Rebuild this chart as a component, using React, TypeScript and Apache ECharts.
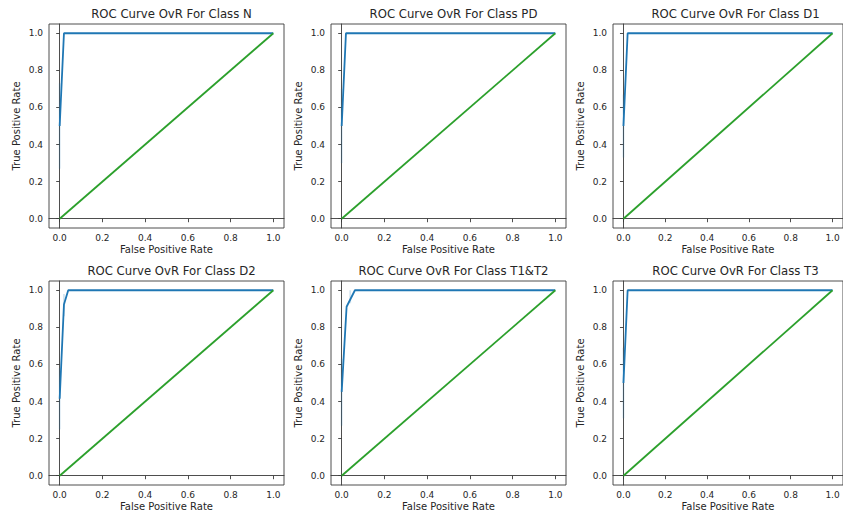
import React, { useEffect, useRef } from "react";
import * as echarts from "echarts";

// ---- data ----
const classNames = ["N", "PD", "D1", "D2", "T1&T2", "T3"];
const tickValues = [0, 0.2, 0.4, 0.6, 0.8, 1.0];

const fprN = [0, 0.02, 1];
const tprN = [0.5, 1, 1];
const bandN = [[0, 0.27, 0.73]];

const fprPD = [0, 0.02, 1];
const tprPD = [0.5, 1, 1];
const bandPD = [[0, 0.3, 0.7]];

const fprD1 = [0, 0.02, 1];
const tprD1 = [0.5, 1, 1];
const bandD1 = [[0, 0.33, 0.67]];

const fprD2 = [0, 0.02, 0.04, 1];
const tprD2 = [0.415, 0.923, 1, 1];
const bandD2 = [[0, 0.25, 0.58], [0.02, 0.86, 0.98]];

const fprT = [0, 0.023, 0.062, 1];
const tprT = [0.452, 0.911, 1, 1];
const bandT = [[0, 0.27, 0.63], [0.04, 0.93, 1.0]];

const fprT3 = [0, 0.02, 1];
const tprT3 = [0.5, 1, 1];
const bandT3 = [[0, 0.31, 0.69]];

const chanceX = [0, 1];
const chanceY = [0, 1];

const fprs = [fprN, fprPD, fprD1, fprD2, fprT, fprT3];
const tprs = [tprN, tprPD, tprD1, tprD2, tprT, tprT3];
const bands = [bandN, bandPD, bandD1, bandD2, bandT, bandT3];

const BLUE = "#1f77b4";
const GREEN = "#2ca02c";
const TEXT = "#262626";
const FONT = "DejaVu Sans";

export default function App() {
  const ref = useRef<HTMLDivElement>(null);

  useEffect(() => {
    if (!ref.current) return;
    const chart = echarts.init(ref.current, null, { renderer: "svg" });

    const colLefts = [49, 331, 613];
    const rowTops = [24, 281];
    const W = 235;
    const H = 204;

    const grids: any[] = [];
    const xAxes: any[] = [];
    const yAxes: any[] = [];
    const titles: any[] = [];
    const series: any[] = [];

    classNames.forEach((name, i) => {
      const r = Math.floor(i / 3);
      const c = i % 3;
      const left = colLefts[c];
      const top = rowTops[r];
      grids.push({
        left,
        top,
        width: W,
        height: H,
        show: true,
        borderColor: "#3a3a3a",
        borderWidth: 0.9,
        backgroundColor: "transparent",
        containLabel: false,
      });
      titles.push({
        text: "ROC Curve OvR For Class " + name,
        left: left + W / 2,
        top: top - 21,
        textAlign: "center",
        textStyle: {
          fontFamily: FONT,
          fontSize: 11.7,
          fontWeight: "normal",
          color: TEXT,
        },
      });
      const axisCommon = {
        type: "value",
        gridIndex: i,
        min: -0.05,
        max: 1.05,
        splitLine: { show: false },
        axisLine: { show: true, lineStyle: { color: "#3a3a3a", width: 0.9 } },
        axisTick: {
          show: true,
          length: 3.5,
          inside: false,
          customValues: tickValues,
          lineStyle: { color: "#3a3a3a", width: 0.9 },
        },
        nameLocation: "middle",
        nameTextStyle: { fontFamily: FONT, fontSize: 10, color: TEXT },
      };
      xAxes.push({
        ...axisCommon,
        name: "False Positive Rate",
        nameGap: 16,
        axisLabel: {
          customValues: tickValues,
          formatter: (v: number) => v.toFixed(1),
          fontFamily: FONT,
          fontSize: 9,
          color: TEXT,
          margin: 5,
        },
      });
      yAxes.push({
        ...axisCommon,
        name: "True Positive Rate",
        nameGap: 28,
        axisLabel: {
          customValues: tickValues,
          formatter: (v: number) => v.toFixed(1),
          fontFamily: FONT,
          fontSize: 9,
          color: TEXT,
          margin: 6,
        },
      });

      bands[i].forEach((b) => {
        series.push({
          type: "line",
          xAxisIndex: i,
          yAxisIndex: i,
          data: [
            [b[0], b[1]],
            [b[0], b[2]],
          ],
          showSymbol: false,
          lineStyle: { color: BLUE, width: 1.8, opacity: 0.2 },
          z: 1,
          silent: true,
        });
      });
      series.push({
        type: "line",
        xAxisIndex: i,
        yAxisIndex: i,
        data: fprs[i].map((x, k) => [x, tprs[i][k]]),
        showSymbol: false,
        lineStyle: { color: BLUE, width: 1.8 },
        z: 2,
      });
      series.push({
        type: "line",
        xAxisIndex: i,
        yAxisIndex: i,
        data: chanceX.map((x, k) => [x, chanceY[k]]),
        showSymbol: false,
        lineStyle: { color: GREEN, width: 1.8 },
        z: 3,
      });
    });

    chart.setOption({
      animation: false,
      backgroundColor: "#ffffff",
      title: titles,
      grid: grids,
      xAxis: xAxes,
      yAxis: yAxes,
      series,
    });

    return () => chart.dispose();
  }, []);

  return (
    <div
      ref={ref}
      style={{ position: "fixed", left: 0, top: 0, width: 843, height: 514 }}
    />
  );
}
